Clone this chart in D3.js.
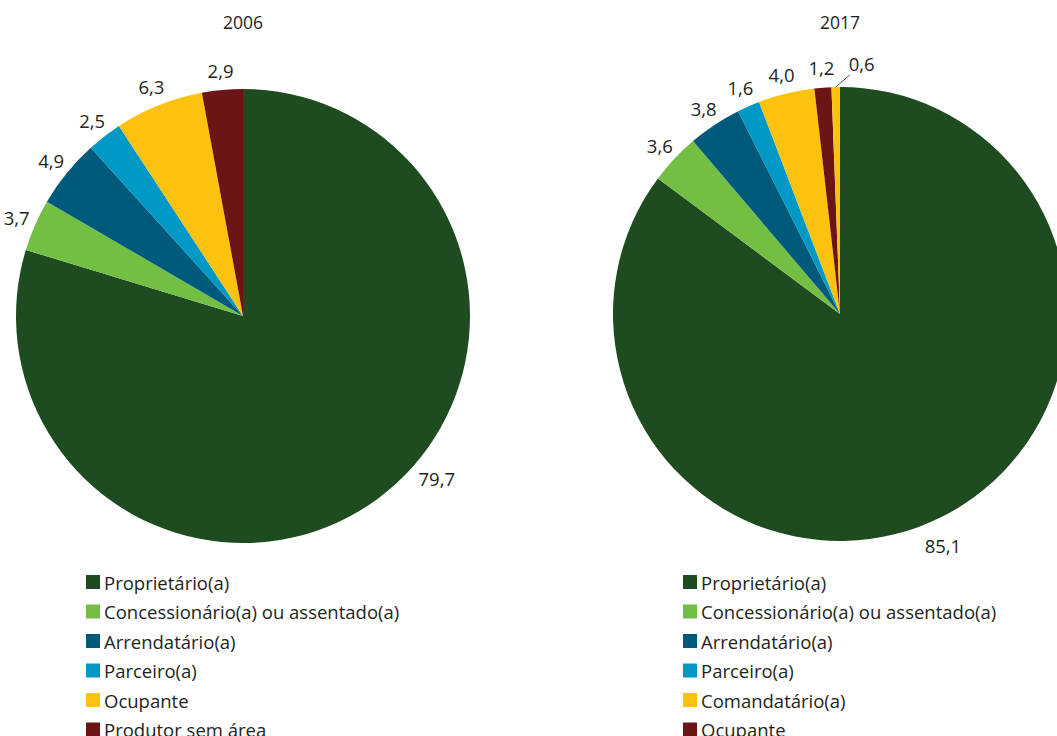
<!DOCTYPE html>
<html>
<head>
<meta charset="utf-8">
<script src="https://cdn.jsdelivr.net/npm/d3@7"></script>
<style>
  html, body { margin: 0; padding: 0; background: #fff; overflow: hidden; }
  svg { display: block; font-family: "Open Sans", "Noto Sans", sans-serif; }
</style>
</head>
<body>
<svg id="chart" width="1057" height="736"></svg>
<script>
// Condição do produtor em relação às terras (%)
const years = ["2006", "2017"];

const categories2006 = ["Proprietário(a)", "Concessionário(a) ou assentado(a)", "Arrendatário(a)", "Parceiro(a)", "Ocupante", "Produtor sem área"];
const values2006 = [79.7, 3.7, 4.9, 2.5, 6.3, 2.9];

const categories2017 = ["Proprietário(a)", "Concessionário(a) ou assentado(a)", "Arrendatário(a)", "Parceiro(a)", "Comandatário(a)", "Ocupante", "Produtor sem área"];
const values2017 = [85.1, 3.6, 3.8, 1.6, 4.0, 1.2, 0.6];

const colors2006 = ["#1e4b20", "#72bf44", "#005a7c", "#0098c4", "#fdc20f", "#6c1517"];
const colors2017 = ["#1e4b20", "#72bf44", "#005a7c", "#0098c4", "#fdc20f", "#6c1517", "#fdc20f"];

const textColor = "#231f20";
const fmt = v => d3.format(".1f")(v).replace(".", ",");

const svg = d3.select("#chart");
const R = 227;
const labelSize = 18.5;

const charts = [
  { year: years[0], cats: categories2006, vals: values2006, cols: colors2006,
    cx: 243, cy: 316, mainLabelDeg: 130, legendX: 86 },
  { year: years[1], cats: categories2017, vals: values2017, cols: colors2017,
    cx: 840, cy: 314, mainLabelDeg: 156, legendX: 683 }
];

const pie = d3.pie().sort(null).value(d => d);
const arc = d3.arc().innerRadius(0).outerRadius(R);
const polar = (angle, r) => [Math.sin(angle) * r, -Math.cos(angle) * r];

charts.forEach(c => {
  const g = svg.append("g").attr("transform", `translate(${c.cx},${c.cy})`);
  const arcs = pie(c.vals);

  g.selectAll("path.slice")
    .data(arcs)
    .join("path")
    .attr("class", "slice")
    .attr("d", arc)
    .attr("fill", (d, i) => c.cols[i]);

  // year title
  svg.append("text")
    .attr("x", c.cx).attr("y", 29)
    .attr("text-anchor", "middle")
    .attr("font-size", 17.5)
    .attr("fill", textColor)
    .text(c.year);

  // value labels
  arcs.forEach((d, i) => {
    const mid = (d.startAngle + d.endAngle) / 2;
    const share = (d.endAngle - d.startAngle) / (2 * Math.PI);
    if (share > 0.5) {
      const [x, y] = polar(c.mainLabelDeg * Math.PI / 180, R + 26);
      g.append("text").attr("x", x).attr("y", y)
        .attr("text-anchor", "middle").attr("dominant-baseline", "central")
        .attr("font-size", labelSize).attr("fill", textColor)
        .text(fmt(d.data));
    } else if (share < 0.01) {
      const [x0, y0] = polar(mid, R);
      const x1 = x0 + 14, y1 = y0 - 12;
      g.append("line")
        .attr("x1", x0).attr("y1", y0).attr("x2", x1).attr("y2", y1)
        .attr("stroke", textColor).attr("stroke-width", 0.8);
      g.append("text").attr("x", x1 - 1).attr("y", y1 - 12)
        .attr("text-anchor", "start").attr("dominant-baseline", "central")
        .attr("font-size", labelSize).attr("fill", textColor)
        .text(fmt(d.data));
    } else {
      const [x, y] = polar(mid, R + 20);
      g.append("text").attr("x", x).attr("y", y)
        .attr("text-anchor", "middle").attr("dominant-baseline", "central")
        .attr("font-size", labelSize).attr("fill", textColor)
        .text(fmt(d.data));
    }
  });

  // legend
  const y = d3.scaleBand().domain(c.cats).range([568, 568 + 29.5 * c.cats.length]);
  const lg = svg.append("g");
  const rows = lg.selectAll("g").data(c.cats).join("g")
    .attr("transform", d => `translate(${c.legendX},${y(d)})`);
  rows.append("rect").attr("x", 0).attr("y", 7).attr("width", 14).attr("height", 14)
    .attr("fill", (d, i) => c.cols[i]);
  rows.append("text").attr("x", 18).attr("y", 14)
    .attr("dominant-baseline", "central")
    .attr("font-size", 18.5).attr("fill", textColor)
    .text(d => d);
});
</script>
</body>
</html>
